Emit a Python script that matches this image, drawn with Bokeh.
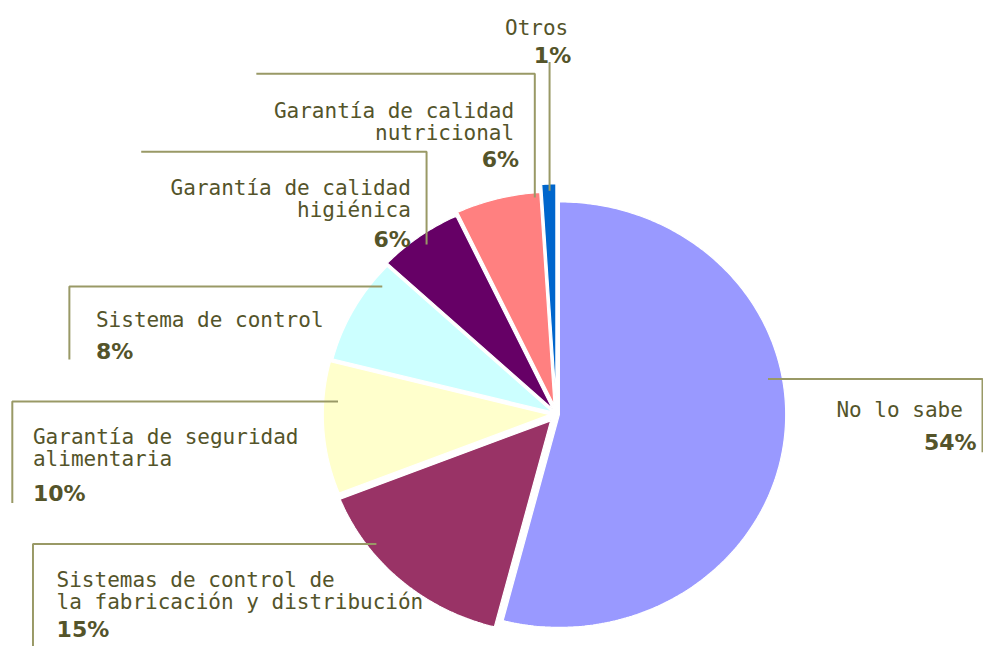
import math
from bokeh.plotting import figure
from bokeh.models import Range1d, ColumnDataSource
from bokeh.core.properties import value
from bokeh.embed import file_html
from bokeh.resources import INLINE

# ---- data ----
categories = [
    "No lo sabe",
    "Sistemas de control de\nla fabricación y distribución",
    "Garantía de seguridad\nalimentaria",
    "Sistema de control",
    "Garantía de calidad\nhigiénica",
    "Garantía de calidad\nnutricional",
    "Otros",
]
values = [54, 15, 10, 8, 6, 6, 1]

# ---- styling ----
colors = ["#9999FF", "#993366", "#FFFFCC", "#CCFFFF", "#660066", "#FF8080", "#0066CC"]
explode = [3, 9, 7, 5, 7, 10, 18]
CX, CY, RX, RY = 565, 424, 230, 218
TEXT_COLOR = "#54542a"
LINE_COLOR = "#999966"
LINE_GAP = 22.5

# label layout: (name x, name align, first baseline, pct x, pct align, pct baseline)
label_layout = [
    (978, "right", 420, 992, "right", 453),
    (57, "left", 594, 57, "left", 645),
    (33, "left", 447, 33, "left", 505),
    (97, "left", 327, 97, "left", 360),
    (417, "right", 192, 417, "right", 245),
    (522, "right", 113, 527, "right", 163),
    (577, "right", 28, 580, "right", 56),
]
leader_lines = [
    ([780, 998, 998], [388, 388, 463]),
    ([33, 33, 382], [662, 557, 557]),
    ([12, 12, 343], [515, 411, 411]),
    ([70, 70, 388], [368, 293, 293]),
    ([143, 433, 433], [155, 155, 250]),
    ([260, 543, 543], [75, 75, 202]),
    ([558, 558], [63, 195]),
]

p = figure(width=983, height=646, x_range=Range1d(0, 999), y_range=Range1d(662, 0),
           output_backend="svg", toolbar_location=None, min_border=0,
           x_axis_location=None, y_axis_location=None)
p.grid.visible = False
p.outline_line_color = None
p.background_fill_color = "white"

# ---- pie slices (elliptical, exploded) ----
total = float(sum(values))
xs, ys = [], []
cum = 0.0
for v, d in zip(values, explode):
    f0 = cum / total
    cum += v
    f1 = cum / total
    t0 = math.radians(90 - 360 * f0)
    t1 = math.radians(90 - 360 * f1)
    tm = (t0 + t1) / 2
    ox = CX + d * math.cos(tm)
    oy = CY - d * math.sin(tm)
    n = max(8, int(abs(t1 - t0) * 80))
    px = [ox]
    py = [oy]
    for k in range(n + 1):
        t = t0 + (t1 - t0) * k / n
        px.append(ox + RX * math.cos(t))
        py.append(oy - RY * math.sin(t))
    xs.append(px)
    ys.append(py)

p.patches(xs="xs", ys="ys", fill_color="color", line_color="white", line_width=1.2,
          source=ColumnDataSource(dict(xs=xs, ys=ys, color=colors)))

# ---- leader lines ----
p.multi_line(xs=[l[0] for l in leader_lines], ys=[l[1] for l in leader_lines],
             line_color=LINE_COLOR, line_width=2)

# ---- labels ----
for cat, v, lay in zip(categories, values, label_layout):
    nx, nal, nb, pxx, pal, pb = lay
    lines = cat.split("\n")
    p.text(x=[nx] * len(lines), y=[nb + i * LINE_GAP for i in range(len(lines))], text=lines,
           text_align=nal, text_baseline="alphabetic", text_color=TEXT_COLOR,
           text_font=value("DejaVu Sans Mono"), text_font_size="21px")
    p.text(x=[pxx], y=[pb], text=[f"{v}%"], text_align=pal, text_baseline="alphabetic",
           text_color=TEXT_COLOR, text_font=value("DejaVu Sans"), text_font_size="22px",
           text_font_style="bold")

open("out.html", "w").write(file_html(p, INLINE))
